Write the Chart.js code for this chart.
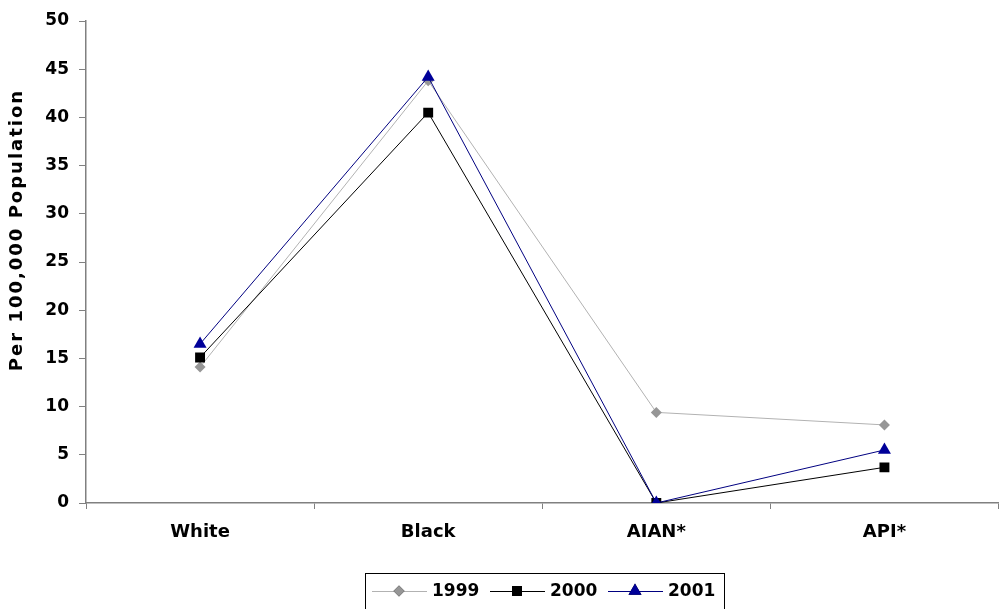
<!DOCTYPE html>
<html>
<head>
<meta charset="utf-8">
<script src="https://cdn.jsdelivr.net/npm/chart.js@4/dist/chart.umd.min.js"></script>
<style>
  html, body { margin: 0; padding: 0; background: #fff; }
  #wrap { width: 1000px; height: 609px; position: relative; overflow: hidden; }
  #inner { width: 1006px; height: 609px; position: absolute; left: 0; top: 0; }
</style>
</head>
<body>
<div id="wrap"><div id="inner"><canvas id="chart"></canvas></div></div>
<script>
// categories and series (per 100,000 population)
const categories = ['White', 'Black', 'AIAN*', 'API*'];
const years = ['1999', '2000', '2001'];
const values1999 = [14.1, 43.8, 9.4, 8.1];
const values2000 = [15.1, 40.5, 0, 3.7];
const values2001 = [16.5, 44.2, 0, 5.5];
const yTicks = [0, 5, 10, 15, 20, 25, 30, 35, 40, 45, 50];

// wide bold face, closest to the stretched text of the original
const fontFamily = '"DejaVu Sans", sans-serif';

// legend in a box under the chart, line + marker like the original
const boxLegend = {
  id: 'boxLegend',
  afterDraw(chart) {
    const ctx = chart.ctx;
    ctx.save();
    ctx.strokeStyle = '#000';
    ctx.lineWidth = 1;
    ctx.strokeRect(365.5, 573.5, 359, 40);
    let x = 372;
    chart.data.datasets.forEach((ds, i) => {
      ctx.strokeStyle = ds.borderColor;
      ctx.lineWidth = 1;
      ctx.beginPath();
      ctx.moveTo(x, 591.5);
      ctx.lineTo(x + 55, 591.5);
      ctx.stroke();
      Chart.helpers.drawPoint(ctx, {
        pointStyle: ds.pointStyle,
        radius: ds.pointRadius,
        borderWidth: 0,
        rotation: 0
      }, x + 27, 591);
      ctx.fillStyle = ds.pointBackgroundColor;
      ctx.fill();
      ctx.fillStyle = '#000';
      ctx.font = 'bold 17px ' + fontFamily;
      ctx.textBaseline = 'middle';
      ctx.textAlign = 'left';
      ctx.fillText(ds.label, x + 60, 592);
      x += 118;
    });
    ctx.restore();
  }
};

// rotated y axis title
const yTitle = {
  id: 'yTitle',
  afterDraw(chart) {
    const ctx = chart.ctx;
    ctx.save();
    ctx.letterSpacing = '2px';
    ctx.translate(17, 230);
    ctx.rotate(-Math.PI / 2);
    ctx.font = 'bold 18px ' + fontFamily;
    ctx.fillStyle = '#000';
    ctx.textAlign = 'center';
    ctx.textBaseline = 'middle';
    ctx.fillText('Per 100,000 Population', 0, 0);
    ctx.restore();
  }
};

new Chart(document.getElementById('chart'), {
  type: 'line',
  data: {
    labels: categories,
    datasets: [
      {
        label: years[0],
        data: values1999,
        borderColor: '#b2b2b2',
        borderWidth: 1,
        pointStyle: 'rectRot',
        pointRadius: 5.5,
        pointBackgroundColor: '#969696',
        pointBorderWidth: 0,
        order: 2
      },
      {
        label: years[1],
        data: values2000,
        borderColor: '#000000',
        borderWidth: 1,
        pointStyle: 'rect',
        pointRadius: 7,
        pointBackgroundColor: '#000000',
        pointBorderWidth: 0,
        order: 1
      },
      {
        label: years[2],
        data: values2001,
        borderColor: '#000080',
        borderWidth: 1,
        pointStyle: 'triangle',
        pointRadius: 7.5,
        pointBackgroundColor: '#000099',
        pointBorderWidth: 0,
        order: 0
      }
    ]
  },
  options: {
    responsive: true,
    maintainAspectRatio: false,
    animation: false,
    layout: { padding: { top: 21, right: 0, left: 0, bottom: 0 } },
    plugins: {
      legend: { display: false },
      tooltip: { enabled: false }
    },
    scales: {
      x: {
        offset: true,
        afterFit(scale) { scale.height = 106; },
        grid: {
          offset: true,
          drawOnChartArea: false,
          drawTicks: true,
          tickLength: 6,
          color: '#808080'
        },
        border: { color: '#808080', width: 1.5 },
        ticks: {
          color: '#000',
          padding: 13,
          font: { family: fontFamily, size: 18, weight: 'bold' }
        }
      },
      y: {
        min: 0,
        max: 50,
        afterFit(scale) { scale.width = 86; },
        afterBuildTicks(scale) { scale.ticks = yTicks.map(v => ({ value: v })); },
        grid: {
          drawOnChartArea: false,
          drawTicks: true,
          tickLength: 7,
          color: '#808080'
        },
        border: { color: '#808080', width: 1.5 },
        ticks: {
          color: '#000',
          padding: 10,
          font: { family: fontFamily, size: 17, weight: 'bold' }
        }
      }
    }
  },
  plugins: [boxLegend, yTitle]
});
</script>
</body>
</html>
